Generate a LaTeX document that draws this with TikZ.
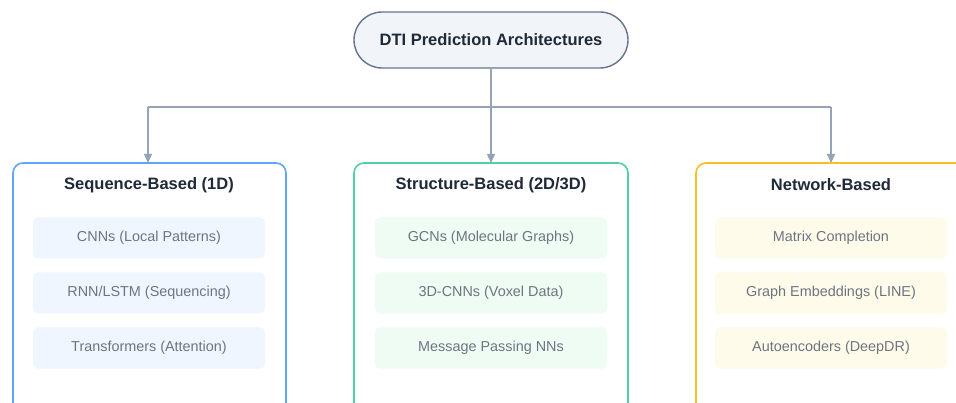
\documentclass[tikz,border=0pt]{standalone}
\usepackage{fontspec}
\setmainfont{Liberation Sans}
\usetikzlibrary{arrows.meta}
\definecolor{rootfill}{HTML}{F1F5F9}
\definecolor{rootdraw}{HTML}{64748B}
\definecolor{linec}{HTML}{94A3B8}
\definecolor{titlec}{HTML}{1F2937}
\definecolor{itemtext}{HTML}{6E7580}
\definecolor{bluedraw}{HTML}{60A5FA}
\definecolor{bluefill}{HTML}{EFF6FF}
\definecolor{greendraw}{HTML}{4FD1A5}
\definecolor{greenfill}{HTML}{EEFCF3}
\definecolor{orangedraw}{HTML}{FBBF24}
\definecolor{orangefill}{HTML}{FEFBEA}
\tikzset{
  rootbox/.style={draw=rootdraw, fill=rootfill, line width=1.4pt, rounded corners=28pt,
    minimum width=274pt, minimum height=56pt, inner sep=0pt,
    font=\fontsize{16.5}{19}\selectfont\bfseries, text=titlec},
  catbox/.style={draw=#1, line width=1.6pt, rounded corners=10pt, fill=white},
  cattitle/.style={font=\fontsize{16.5}{19}\selectfont\bfseries, text=titlec, inner sep=0pt},
  itembox/.style={fill=#1, rounded corners=5pt, minimum width=232pt, minimum height=41pt,
    inner sep=0pt, font=\fontsize{14.4}{16}\selectfont, text=itemtext},
  conn/.style={draw=linec, line width=1.4pt},
  arr/.style={conn, -{Triangle[length=9pt,width=8pt]}}
}
\begin{document}
\begin{tikzpicture}[x=1pt,y=-1pt]
\useasboundingbox (0,0) rectangle (956,403);
\clip (0,0) rectangle (956,403);
\fill[white] (0,0) rectangle (956,403);
\node[rootbox] (root) at (491,40) {DTI Prediction Architectures};
% category boxes
\draw[catbox=bluedraw] (13,163) rectangle (286,430);
\draw[catbox=greendraw] (354,163) rectangle (628,430);
\draw[catbox=orangedraw] (696,163) rectangle (980,430);
\coordinate (c1) at (148,163);
\coordinate (c2) at (491,163);
\coordinate (c3) at (831,163);
\coordinate (j) at (491,107);
\coordinate (j1) at (148,107);
\coordinate (j3) at (831,107);
\draw[conn] (root.south) -- (j);
\draw[conn] (j1) -- (j3);
\draw[arr] (j1) -- (c1);
\draw[arr] (j) -- (c2);
\draw[arr] (j3) -- (c3);
\node[cattitle] (t1) at (149,185) {Sequence-Based (1D)};
\node[cattitle] (t2) at (491,185) {Structure-Based (2D/3D)};
\node[cattitle] (t3) at (831,185) {Network-Based};
\node[itembox=bluefill] (a1) at (149,238) {CNNs (Local Patterns)};
\node[itembox=bluefill] (a2) at (149,293) {RNN/LSTM (Sequencing)};
\node[itembox=bluefill] (a3) at (149,348) {Transformers (Attention)};
\node[itembox=greenfill] (b1) at (491,238) {GCNs (Molecular Graphs)};
\node[itembox=greenfill] (b2) at (491,293) {3D-CNNs (Voxel Data)};
\node[itembox=greenfill] (b3) at (491,348) {Message Passing NNs};
\node[itembox=orangefill] (o1) at (831,238) {Matrix Completion};
\node[itembox=orangefill] (o2) at (831,293) {Graph Embeddings (LINE)};
\node[itembox=orangefill] (o3) at (831,348) {Autoencoders (DeepDR)};
\end{tikzpicture}
\end{document}
